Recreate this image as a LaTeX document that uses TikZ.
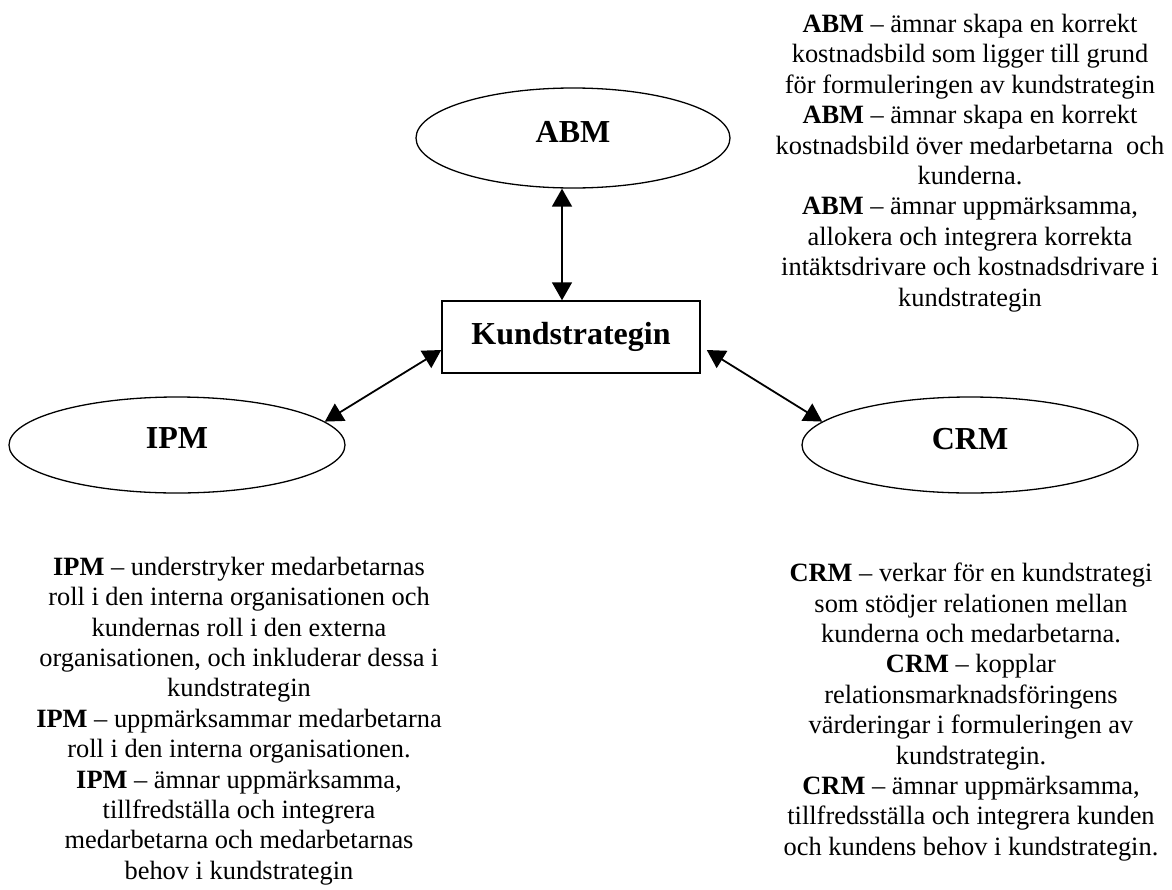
\documentclass[tikz,border=0pt]{standalone}
\usepackage{fontspec}
\setmainfont{Liberation Serif}
\usetikzlibrary{arrows.meta,shapes.geometric}
\begin{document}
\begin{tikzpicture}[x=1pt,y=-1pt,
  hub/.style={ellipse, draw, line width=1.3pt, inner sep=0pt,
    minimum width=336pt, minimum height=96pt,
    font=\fontsize{32}{36}\selectfont\bfseries, text depth=13pt},
  core/.style={rectangle, draw, line width=1.5pt, inner sep=0pt,
    minimum width=258pt, minimum height=72pt,
    font=\fontsize{32}{36}\selectfont\bfseries},
  link/.style={line width=1.8pt,
    {Triangle[length=18pt,width=20pt]}-{Triangle[length=18pt,width=20pt]}},
  note/.style={align=center, inner sep=0pt,
    font=\fontsize{26.4}{30.4}\selectfont}
]
\useasboundingbox (0,0) rectangle (1172,889);

% central box and the three surrounding concepts
\node[core] (core) at (571,337) {Kundstrategin};
\node[hub, minimum width=314pt, minimum height=100pt] (abm) at (573,138) {ABM};
\node[hub] (ipm) at (177,445) {IPM};
\node[hub] (crm) at (970,445) {CRM};

% two-way links
\coordinate (vx) at (562,0);
\draw[link] (abm.south -| vx) -- (core.north -| vx);
\draw[link] (ipm.9) -- ([yshift=-13pt]core.west);
\draw[link] (crm.171) -- ([xshift=6pt,yshift=-13pt]core.east);

% descriptions
\node[note] (abmnote) at (970,163) {%
  \textbf{ABM} – ämnar skapa en korrekt\\
  kostnadsbild som ligger till grund\\
  för formuleringen av kundstrategin\\
  \textbf{ABM} – ämnar skapa en korrekt\\
  kostnadsbild över medarbetarna \ och\\
  kunderna.\\
  \textbf{ABM} – ämnar uppmärksamma,\\
  allokera och integrera korrekta\\
  intäktsdrivare och kostnadsdrivare i\\
  kundstrategin};

\node[note] (ipmnote) at (239,721) {%
  \textbf{IPM} – understryker medarbetarnas\\
  roll i den interna organisationen och\\
  kundernas roll i den externa\\
  organisationen, och inkluderar dessa i\\
  kundstrategin\\
  \textbf{IPM} – uppmärksammar medarbetarna\\
  roll i den interna organisationen.\\
  \textbf{IPM} – ämnar uppmärksamma,\\
  tillfredställa och integrera\\
  medarbetarna och medarbetarnas\\
  behov i kundstrategin};

\node[note] (crmnote) at (971,712) {%
  \textbf{CRM} – verkar för en kundstrategi\\
  som stödjer relationen mellan\\
  kunderna och medarbetarna.\\
  \textbf{CRM} – kopplar\\
  relationsmarknadsföringens\\
  värderingar i formuleringen av\\
  kundstrategin.\\
  \textbf{CRM} – ämnar uppmärksamma,\\
  tillfredsställa och integrera kunden\\
  och kundens behov i kundstrategin.};
\end{tikzpicture}
\end{document}
